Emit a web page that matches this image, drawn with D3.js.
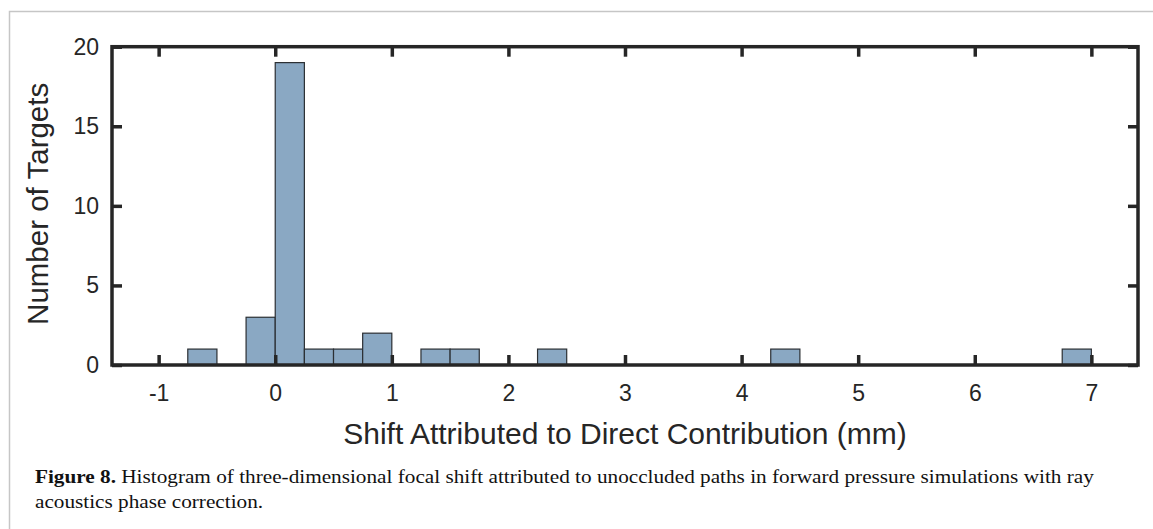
<!DOCTYPE html>
<html>
<head>
<meta charset="utf-8">
<script src="https://cdn.jsdelivr.net/npm/d3@7"></script>
<style>
  html, body { margin: 0; padding: 0; background: #fff; }
  svg { display: block; }
</style>
</head>
<body>
<svg id="fig" width="1153" height="529"></svg>
<script>
// Histogram bins: left edge of each non-empty bin (mm) and its count
const binStarts = [-0.75, -0.25, 0, 0.25, 0.5, 0.75, 1.25, 1.5, 2.25, 4.25, 6.75];
const binCounts = [1, 3, 19, 1, 1, 2, 1, 1, 1, 1, 1];
const binWidth = 0.25;

const xTicks = [-1, 0, 1, 2, 3, 4, 5, 6, 7];
const yTicks = [0, 5, 10, 15, 20];
const xDomain = [-1.4, 7.4];
const yDomain = [0, 20];

const xLabel = "Shift Attributed to Direct Contribution (mm)";
const yLabel = "Number of Targets";
const captionBold = "Figure 8.";
const captionLine1 = " Histogram of three-dimensional focal shift attributed to unoccluded paths in forward pressure simulations with ray";
const captionLine2 = "acoustics phase correction.";

const bins = binStarts.map((s, i) => ({ x0: s, x1: s + binWidth, n: binCounts[i] }));

const svg = d3.select("#fig");
const plot = { left: 112, right: 1138, top: 46.7, bottom: 365 };
const ink = "#262626";
const sans = "'Liberation Sans', Arial, Helvetica, sans-serif";
const serif = "'Liberation Serif', 'Times New Roman', serif";

// page frame (open at right and bottom)
svg.append("path")
  .attr("d", "M9.5,529 V11.5 H1153")
  .attr("fill", "none")
  .attr("stroke", "#c6c6c6")
  .attr("stroke-width", 1.5);

const x = d3.scaleLinear().domain(xDomain).range([plot.left, plot.right]);
const y = d3.scaleLinear().domain(yDomain).range([plot.bottom, plot.top]);

// bars
svg.append("g")
  .selectAll("rect")
  .data(bins)
  .join("rect")
  .attr("x", d => x(d.x0))
  .attr("y", d => y(d.n))
  .attr("width", d => x(d.x1) - x(d.x0))
  .attr("height", d => y(0) - y(d.n))
  .attr("fill", "#8aa8c3")
  .attr("stroke", "#2b2f33")
  .attr("stroke-width", 1.2);

// axes: ticks point inward on all four sides
const tickLen = 10;
function styleAxis(g) {
  g.select(".domain").remove();
  g.selectAll(".tick line").attr("stroke", ink).attr("stroke-width", 3.5);
  g.selectAll(".tick text")
    .attr("fill", ink)
    .style("font-family", sans)
    .style("font-size", "23px");
}

svg.append("g")
  .attr("transform", `translate(0,${plot.bottom})`)
  .call(d3.axisBottom(x).tickValues(xTicks).tickFormat(d => d < 0 ? "-" + Math.abs(d) : d)
    .tickSizeInner(-tickLen).tickSizeOuter(0).tickPadding(20))
  .call(styleAxis);

svg.append("g")
  .attr("transform", `translate(0,${plot.top})`)
  .call(d3.axisTop(x).tickValues(xTicks).tickFormat("")
    .tickSizeInner(-tickLen).tickSizeOuter(0))
  .call(styleAxis);

svg.append("g")
  .attr("transform", `translate(${plot.left},0)`)
  .call(d3.axisLeft(y).tickValues(yTicks)
    .tickSizeInner(-tickLen).tickSizeOuter(0).tickPadding(13))
  .call(styleAxis);

svg.append("g")
  .attr("transform", `translate(${plot.right},0)`)
  .call(d3.axisRight(y).tickValues(yTicks).tickFormat("")
    .tickSizeInner(-tickLen).tickSizeOuter(0))
  .call(styleAxis);

// axes box
svg.append("rect")
  .attr("x", plot.left)
  .attr("y", plot.top)
  .attr("width", plot.right - plot.left)
  .attr("height", plot.bottom - plot.top)
  .attr("fill", "none")
  .attr("stroke", ink)
  .attr("stroke-width", 3.5);

// axis titles
svg.append("text")
  .attr("x", (plot.left + plot.right) / 2)
  .attr("y", 444)
  .attr("text-anchor", "middle")
  .attr("fill", ink)
  .style("font-family", sans)
  .style("font-size", "30px")
  .text(xLabel);

svg.append("text")
  .attr("transform", `translate(48,${(plot.top + plot.bottom) / 2 - 2}) rotate(-90)`)
  .attr("text-anchor", "middle")
  .attr("fill", ink)
  .style("font-family", sans)
  .style("font-size", "29.5px")
  .text(yLabel);

// caption: a wide book face, approximated by stretching the serif horizontally
const capLeft = 35;
const capStretch = 1.18;
const cap = svg.append("g")
  .attr("transform", `translate(${capLeft},0) scale(${capStretch},1)`)
  .style("font-family", serif)
  .style("font-size", "18px")
  .attr("fill", "#111");
const t1 = cap.append("text").attr("x", 0).attr("y", 483);
t1.append("tspan").style("font-weight", "bold").text(captionBold);
t1.append("tspan").text(captionLine1);
cap.append("text").attr("x", 0).attr("y", 508).text(captionLine2);
</script>
</body>
</html>
